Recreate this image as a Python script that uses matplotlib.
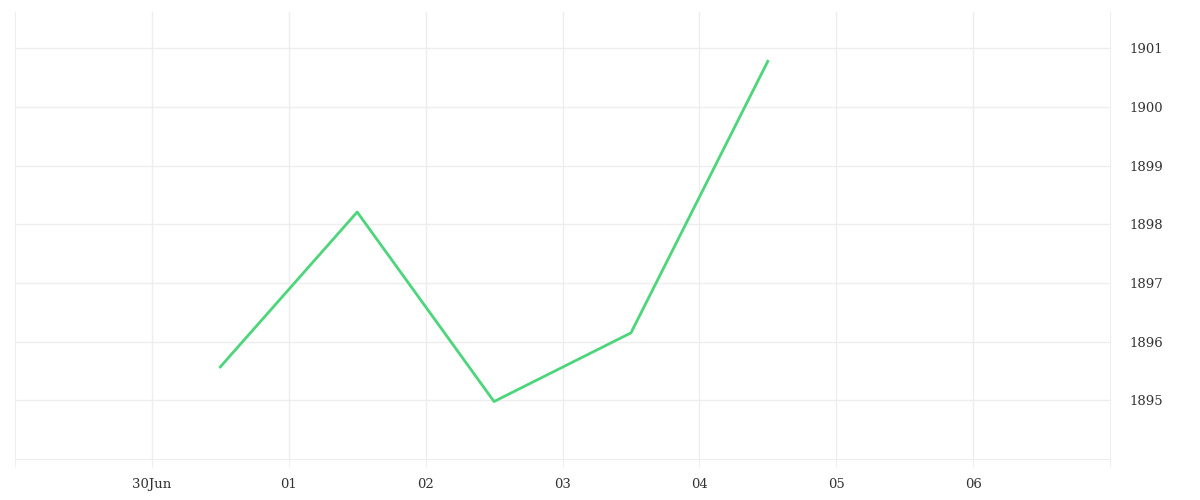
import matplotlib.pyplot as plt
import pandas as pd

# dane
dates = pd.to_datetime(['2024-06-30 12:00', '2024-07-01 12:00', '2024-07-02 12:00',
                        '2024-07-03 12:00', '2024-07-04 12:00'])
values = [1895.57, 1898.21, 1894.98, 1896.15, 1900.78]

tick_days = pd.date_range('2024-06-30', '2024-07-06', freq='D')
tick_labels = ['30Jun', '01', '02', '03', '04', '05', '06']
y_ticks = [1895, 1896, 1897, 1898, 1899, 1900, 1901]

grid_color = '#eeeeee'
plt.rcParams['font.family'] = ['DejaVu Serif']

fig = plt.figure(figsize=(12, 5), dpi=100)
ax = fig.add_axes([15 / 1200, 41 / 500, 1095 / 1200, 447 / 500])

ax.plot(dates, values, color='#4cd57a', linewidth=2)

ax.set_xlim(pd.Timestamp('2024-06-29'), pd.Timestamp('2024-07-07'))
ax.set_ylim(1894, 1901.62)

ax.set_xticks(tick_days)
ax.set_xticklabels(tick_labels)
ax.set_xticks([pd.Timestamp('2024-06-29'), pd.Timestamp('2024-07-07')], minor=True)
ax.set_yticks(y_ticks)

ax.yaxis.tick_right()
ax.tick_params(axis='y', length=0, pad=14, labelsize=9.5, labelcolor='#333333')
ax.tick_params(axis='x', which='both', length=6, color=grid_color, pad=8,
               labelsize=9.5, labelcolor='#333333')

ax.grid(True, color=grid_color, linewidth=1)
for side in ['left', 'right', 'bottom']:
    ax.spines[side].set_color(grid_color)
ax.spines['top'].set_visible(False)

plt.savefig('out.png')
